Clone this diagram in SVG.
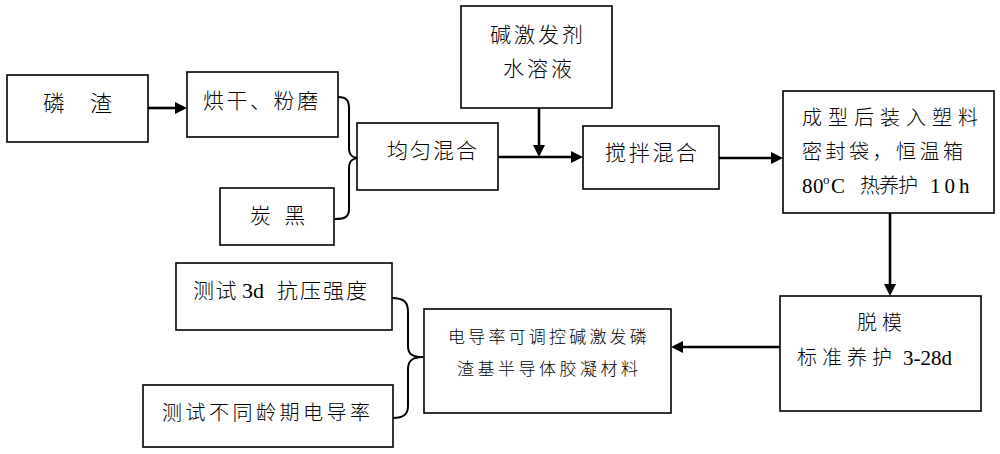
<svg xmlns="http://www.w3.org/2000/svg" width="1000" height="454" viewBox="0 0 1000 454">
<style>
.box{fill:#fff;stroke:#000;stroke-width:1.6}
.t{font-family:"Liberation Serif","Noto Sans CJK SC",serif;fill:#000;font-weight:300}
.f13{font-size:13px}
.f17{font-size:17px}
.f20{font-size:20px}
.f21{font-size:21px}
.f22{font-size:22px}
.c{fill:none;stroke:#000;stroke-width:2.6}
.br{fill:none;stroke:#000;stroke-width:2}
</style>
<defs>
<marker id="ah" viewBox="0 0 12 12" refX="1" refY="6" markerWidth="12" markerHeight="12" markerUnits="userSpaceOnUse" orient="auto">
<path d="M0,0 L12,6 L0,12 z" fill="#000"/>
</marker>
</defs>
<rect x="0" y="0" width="1000" height="454" fill="#fff"/>
<g id="connectors">
<line class="c" x1="148" y1="108" x2="176" y2="108" marker-end="url(#ah)"/>
<line class="c" x1="539" y1="108" x2="539" y2="146" marker-end="url(#ah)"/>
<line class="c" x1="498" y1="157" x2="572" y2="157" marker-end="url(#ah)"/>
<line class="c" x1="719" y1="158" x2="772" y2="158" marker-end="url(#ah)"/>
<line class="c" x1="890" y1="213" x2="890" y2="285" marker-end="url(#ah)"/>
<line class="c" x1="780" y1="347" x2="682" y2="347" marker-end="url(#ah)"/>
<path class="br" d="M338,97 C346,97 349,100 349,108 L349,148 C349,155 352,158 360,158 C352,158 349,161 349,168 L349,209 C349,216 346,219 335,219"/>
<path class="br" d="M392,298 C404,298 408,302 408,312 L408,346 C408,354 412,357 423,357 C412,357 408,361 408,369 L408,406 C408,414 404,418 393,418"/>
</g>
<g id="n1">
<rect class="box" x="7" y="75" width="141" height="67"/>
<text class="t f22" x="43" y="111" letter-spacing="1.5">磷　渣</text>
</g>
<g id="n2">
<rect class="box" x="187" y="72" width="151" height="65"/>
<text class="t f21" x="203" y="108" letter-spacing="2.5">烘干、粉磨</text>
</g>
<g id="n3">
<rect class="box" x="220" y="188" width="114" height="57"/>
<text class="t f21" x="250" y="223" letter-spacing="4">炭 黑</text>
</g>
<g id="n4">
<rect class="box" x="357" y="123" width="141" height="67"/>
<text class="t f21" x="387" y="158" letter-spacing="2">均匀混合</text>
</g>
<g id="n5">
<rect class="box" x="461" y="6" width="151" height="102"/>
<text class="t f21" x="490" y="42" letter-spacing="3">碱激发剂</text>
<text class="t f21" x="503" y="76" letter-spacing="3">水溶液</text>
</g>
<g id="n6">
<rect class="box" x="583" y="126" width="136" height="63"/>
<text class="t f21" x="605" y="160" letter-spacing="2.7">搅拌混合</text>
</g>
<g id="n7">
<rect class="box" x="783" y="91" width="211" height="122"/>
<text class="t f20" x="802" y="125" letter-spacing="6">成型后装入塑料</text>
<text class="t f20" x="802" y="159" letter-spacing="3.5">密封袋，恒温箱</text>
<text class="t f21" y="193"><tspan x="802" letter-spacing="0.5">80</tspan><tspan class="f13" x="823" dy="-9">o</tspan><tspan x="831" dy="9">C</tspan><tspan class="f20" x="860" letter-spacing="-1">热养护</tspan><tspan x="930" letter-spacing="4">10h</tspan></text>
</g>
<g id="n8">
<rect class="box" x="780" y="296" width="201" height="115"/>
<text class="t f20" x="857" y="330" letter-spacing="5">脱模</text>
<text class="t f20" y="365"><tspan x="797" letter-spacing="5">标准养护</tspan><tspan class="f21" x="903">3-28d</tspan></text>
</g>
<g id="n9">
<rect class="box" x="424" y="309" width="247" height="104"/>
<text class="t f17" x="448" y="343" letter-spacing="3.2">电导率可调控碱激发磷</text>
<text class="t f17" x="457" y="375" letter-spacing="3.5">渣基半导体胶凝材料</text>
</g>
<g id="n10">
<rect class="box" x="176" y="263" width="216" height="67"/>
<text class="t f21" y="298"><tspan x="193" letter-spacing="1.5">测试</tspan><tspan class="f22" x="242">3d</tspan><tspan x="277" letter-spacing="2">抗压强度</tspan></text>
</g>
<g id="n11">
<rect class="box" x="143" y="385" width="250" height="62"/>
<text class="t f20" x="162" y="420" letter-spacing="3.5">测试不同龄期电导率</text>
</g>
</svg>
